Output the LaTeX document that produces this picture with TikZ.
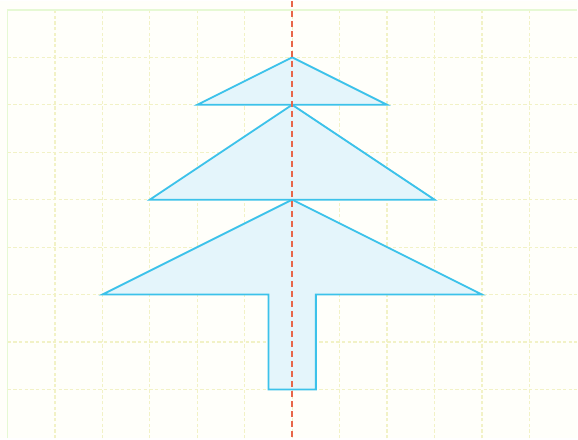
\documentclass[tikz,border=0pt]{standalone}
\usetikzlibrary{calc}
\definecolor{treeink}{HTML}{3CC2EA}
\definecolor{treefill}{HTML}{E4F5FB}
\definecolor{axisred}{HTML}{E8664A}
\definecolor{gridink}{HTML}{F2F2C6}
\definecolor{paper}{HTML}{FFFFFA}
\tikzset{
  gridline/.style={draw=gridink,line width=0.7pt,dash pattern=on 2pt off 1.4pt},
  gridframe/.style={draw=gridink!85!green!50!white,line width=0.8pt},
  treepart/.style={draw=treeink,fill=treefill,line width=1.1pt,line join=miter},
  symaxis/.style={draw=axisred,line width=1.1pt,dash pattern=on 3.6pt off 2.4pt},
}
\begin{document}
\begin{tikzpicture}[x=1cm,y=1cm]
        \fill[paper] (-0.158,-0.032) rectangle (12.01,9.189);
        \foreach \i in {1,...,11}
          {\draw[gridline] (\i,-0.032)--(\i,9);}
        \foreach \j in {1,...,8}
          {\draw[gridline] (0,\j)--(12.01,\j);}
        \draw[gridframe] (0,-0.032)--(0,9)--(12.01,9);
        % tree, bottom part first
        \coordinate (top3) at (6,5);
        \coordinate (top2) at (6,7);
        \coordinate (top1) at (6,8);
        \draw[treepart] (top3)--(10,3)--(6.5,3)--(6.5,1)--(5.5,1)--(5.5,3)--(2,3)--cycle;
        \draw[treepart] (top2)--(9,5)--(3,5)--cycle;
        \draw[treepart] (top1)--(8,7)--(4,7)--cycle;
        \coordinate (axtop) at (6,9.189);
        \coordinate (axbot) at (6,-0.032);
        \draw[symaxis] (axtop)--(axbot);
        \path[use as bounding box] (-0.158,-0.032) rectangle (12.01,9.189);
      \end{tikzpicture}
\end{document}
